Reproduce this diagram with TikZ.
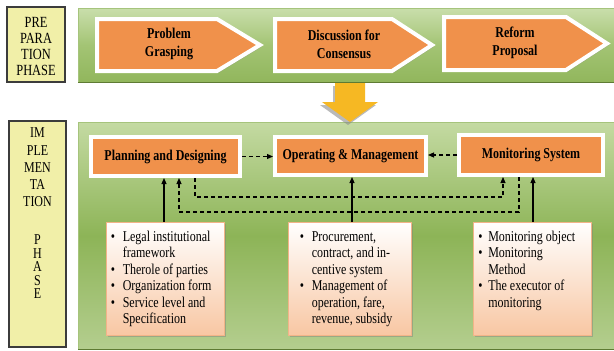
\documentclass[tikz,border=0pt]{standalone}
\usepackage{fontspec}
\setmainfont{Liberation Serif}[FakeStretch=0.8]
\usetikzlibrary{arrows.meta,shadows,calc}
\definecolor{phaseyellow}{HTML}{F1EFA8}
\definecolor{phaseborder}{HTML}{3C3C3C}
\definecolor{procorange}{HTML}{F0914B}
\definecolor{arrowyellow}{HTML}{F6B823}
\definecolor{gtop}{HTML}{C9DEAB}
\definecolor{gmid}{HTML}{A3C474}
\definecolor{gbot}{HTML}{91B65C}
\definecolor{htop}{HTML}{C4DAA2}
\definecolor{hmid}{HTML}{8DB457}
\definecolor{hbot}{HTML}{B4CE8F}
\definecolor{bandedge}{HTML}{A6C47C}
\definecolor{banddark}{HTML}{5E7B33}
\definecolor{listpeach}{HTML}{F8C7A3}
\definecolor{listedge}{HTML}{F2B488}
\begin{document}
\begin{tikzpicture}[x=1pt,y=-1pt,
  shade1/.style={drop shadow={opacity=0.45,shadow xshift=1.5pt,shadow yshift=-1.8pt}},
  phasebox/.style={draw=phaseborder,line width=1.2pt,fill=phaseyellow,inner sep=0pt},
  phasetext/.style={align=center,inner sep=0pt,font=\fontsize{15.5}{16}\selectfont},
  procbox/.style={draw=white,line width=4pt,fill=procorange,inner sep=0pt,shade1,
    font=\fontsize{15}{17}\selectfont\bfseries},
  chev/.style={draw=white,line width=4pt,fill=procorange,line join=miter,shade1},
  chevtext/.style={align=center,inner sep=0pt,font=\fontsize{15}{18}\selectfont\bfseries},
  listbox/.style={draw=listedge,line width=0.8pt,top color=white,bottom color=listpeach,
    inner sep=0pt,shade1},
  listtext/.style={inner sep=0pt,anchor=north west,font=\fontsize{15}{16.5}\selectfont},
  dasharrow/.style={line width=1.1pt,dash pattern=on 4pt off 3pt,-{Triangle[length=6pt,width=5pt]}},
  solidarrow/.style={line width=1.1pt,-{Triangle[length=6pt,width=5pt]}}]
\useasboundingbox[fill=white] (0,0) rectangle (614,351);

% ---------- bands ----------
\node[draw=bandedge,line width=0.6pt,top color=gtop,bottom color=gbot,middle color=gmid,
  minimum width=536pt,minimum height=74pt,anchor=north west,inner sep=0pt] (pband) at (78,8) {};
\draw[banddark,line width=1.6pt] (pband.south west) -- (pband.south east);
\node[draw=bandedge,line width=0.6pt,top color=htop,bottom color=hbot,middle color=hmid,
  minimum width=536pt,minimum height=227pt,anchor=north west,inner sep=0pt] (iband) at (78,122) {};
\draw[banddark,line width=1.6pt] (iband.south west) -- (iband.south east);

% ---------- phase boxes ----------
\node[phasebox,minimum width=58pt,minimum height=75pt] (prep) at (36,44.5) {};
\node[phasetext] (preptext) at (36,46) {PRE\\PARA\\TION\\PHASE};
\node[phasebox,minimum width=57pt,minimum height=226pt] (impl) at (37.5,234) {};
\node[phasetext,font=\fontsize{15}{17.25}\selectfont] (impltext) at (37.5,167.5) {IM\\PLE\\MEN\\TA\\TION};
\node[phasetext,font=\fontsize{15}{13.5}\selectfont] (phasetext) at (37.5,267) {P\\H\\A\\S\\E};

% ---------- chevrons ----------
\path[chev] (97,19) -- (217,19) -- (260,45) -- (217,71) -- (97,71) -- cycle;
\path[chev] (275,19) -- (392,19) -- (432,45) -- (392,71) -- (275,71) -- cycle;
\path[chev] (444,17) -- (566,17) -- (607,43.5) -- (566,70) -- (444,70) -- cycle;
\node[chevtext] (c1) at (169,44) {Problem\\Grasping};
\node[chevtext] (c2) at (344,44) {Discussion for\\Consensus};
\node[chevtext] (c3) at (515,43) {Reform\\Proposal};

% ---------- down arrow ----------
\path[fill=black!45,opacity=0.6] (333,86) -- (363,86) -- (363,105) -- (376,105) -- (348,125) -- (320,105) -- (333,105) -- cycle;
\path[fill=arrowyellow] (335,83) -- (365,83) -- (365,102) -- (378,102) -- (350,122) -- (322,102) -- (335,102) -- cycle;

% ---------- process boxes ----------
\node[procbox,minimum width=149pt,minimum height=39pt] (pd) at (165.5,156.5) {Planning and Designing};
\node[procbox,minimum width=151pt,minimum height=38pt] (om) at (350.5,156) {Operating \& Management};
\node[procbox,minimum width=144pt,minimum height=40pt] (ms) at (531,155) {Monitoring System};

% ---------- list boxes ----------
\node[listbox,minimum width=118pt,minimum height=113pt] (l1) at (165,278.5) {};
\node[listbox,minimum width=123pt,minimum height=113pt] (l2) at (349.5,278.5) {};
\node[listbox,minimum width=118pt,minimum height=113pt] (l3) at (532,278.5) {};
\node[listtext] (t1) at ($(l1.north west)+(5,8)$) {\begin{tabular}{@{}p{12pt}@{}l@{}}
\textbullet & Legal institutional\\ & framework\\
\textbullet & Therole of parties\\
\textbullet & Organization form\\
\textbullet & Service level and\\ & Specification\end{tabular}};
\node[listtext] (t2) at ($(l2.north west)+(12,8)$) {\begin{tabular}{@{}p{12pt}@{}l@{}}
\textbullet & Procurement,\\ & contract, and in-\\ & centive system\\
\textbullet & Management of\\ & operation, fare,\\ & revenue, subsidy\end{tabular}};
\node[listtext] (t3) at ($(l3.north west)+(5.5,8)$) {\begin{tabular}{@{}p{10pt}@{}l@{}}
\textbullet & Monitoring object\\
\textbullet & Monitoring\\ & Method\\
\textbullet & The executor of\\ & monitoring\end{tabular}};

% ---------- connectors ----------
\draw[dasharrow] (pd.east) -- (pd.east -| om.west);
\draw[dasharrow] (ms.west) -- (ms.west -| om.east);
\coordinate (xa) at (195,0);
\coordinate (xb) at (503,0);
\coordinate (xc) at (519,0);
\coordinate (xd) at (179,0);
\coordinate (ya) at (0,197);
\coordinate (yb) at (0,212);
\draw[dasharrow] (pd.south -| xa) -- (xa |- ya) -- (xb |- ya) -- (ms.south -| xb);
\draw[dasharrow] (ms.south -| xc) -- (xc |- yb) -- (xd |- yb) -- (pd.south -| xd);
\coordinate (xe) at (164,0);
\draw[solidarrow] (l1.north -| xe) -- (pd.south -| xe);
\coordinate (xf) at (352,0);
\draw[solidarrow] (l2.north -| xf) -- (om.south -| xf);
\coordinate (xg) at (533,0);
\draw[solidarrow] (l3.north -| xg) -- (ms.south -| xg);
\end{tikzpicture}
\end{document}
